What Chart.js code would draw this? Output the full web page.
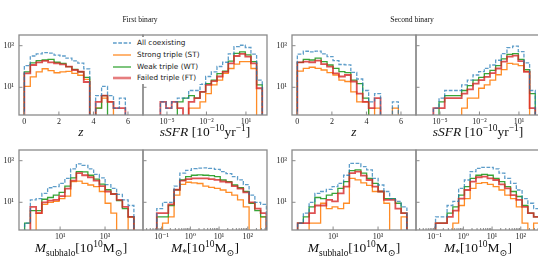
<!DOCTYPE html>
<html><head><meta charset="utf-8">
<script src="https://cdn.jsdelivr.net/npm/chart.js@4/dist/chart.umd.min.js"></script>
<style>
html,body{margin:0;padding:0;background:#fff;width:538px;height:268px;overflow:hidden;position:relative}
canvas{position:absolute}
.tx{position:absolute;white-space:nowrap;transform:translate(-50%,-50%);font-family:'Liberation Serif','DejaVu Serif',serif;color:#111;line-height:1}
.math{font-size:13.5px}
.math sub,.math sup{font-size:70%;line-height:0}
.ttl{font-size:7.6px}
.lgbox{position:absolute;left:109px;top:37px;width:92px;height:47px;background:#fff}
.lg{position:absolute;white-space:nowrap;font-family:'DejaVu Sans',sans-serif;font-size:7.3px;color:#222;transform:translateY(-50%);line-height:1}
</style></head><body>
<script>
// ---------------- data ----------------
const seriesNames = ['All coexisting','Strong triple (ST)','Weak triple (WT)','Failed triple (FT)'];

// bin edges
const zEdges = [0, 0.344, 0.688, 1.032, 1.376, 1.72, 2.064, 2.408, 2.752, 3.096, 3.44, 3.784, 4.128, 4.472, 4.816, 5.16, 5.504, 5.848];
const ssfrEdgesLog = [-5.5, -5.07, -4.64, -4.21, -3.78, -3.35, -2.92, -2.49, -2.06, -1.63, -1.2, -0.77, -0.34, 0.09, 0.52, 0.95, 1.38, 1.81, 2.24];
const mSubEdgesLog = [-0.58, -0.324, -0.068, 0.188, 0.444, 0.7, 0.956, 1.212, 1.468, 1.724, 1.98, 2.236, 2.492, 2.748, 3.004, 3.26, 3.516, 3.772, 4.028, 4.284];
const mStarEdgesLog = [-1.17, -0.969, -0.768, -0.567, -0.366, -0.165, 0.036, 0.237, 0.438, 0.639, 0.84, 1.041, 1.242, 1.443, 1.644, 1.845, 2.046, 2.247, 2.448, 2.649];

// First binary: redshift
const z1All = [110, 320, 400, 465, 440, 355, 320, 250, 188, 145, 77, 0, 4, 11, 4, 1, 3];
const z1ST  = [11, 32, 55, 78, 63, 50, 55, 58, 47, 38, 24, 0, 1, 3, 2, 0, 0];
const z1WT  = [55, 150, 190, 205, 222, 160, 142, 98, 73, 56, 30, 0, 1, 4, 0, 0, 0];
const z1FT  = [47, 118, 158, 185, 158, 142, 127, 98, 68, 56, 18, 0, 2, 4, 2, 1, 1];
// First binary: sSFR
const s1All = [2, 1, 2, 3, 3, 7, 7, 14, 33, 55, 100, 160, 400, 900, 1050, 820, 390, 22];
const s1ST  = [0, 0, 0, 0, 0, 1, 1, 2, 5, 13, 22, 47, 80, 130, 170, 170, 80, 0];
const s1WT  = [0, 0, 0, 2, 3, 4, 3, 6, 15, 22, 45, 60, 180, 430, 500, 360, 170, 13];
const s1FT  = [2, 1, 2, 1, 0, 2, 3, 6, 13, 20, 33, 55, 140, 320, 400, 300, 140, 9];
// Second binary: redshift
const z2All = [390, 540, 500, 550, 400, 300, 190, 125, 120, 52, 25, 7, 2, 5, 0, 0, 2];
const z2ST  = [60, 82, 92, 82, 68, 51, 39, 22, 19, 6, 2, 2, 0, 1, 0, 0, 1];
const z2WT  = [159, 222, 205, 250, 170, 118, 82, 57, 51, 22, 15, 3, 0, 0, 0, 0, 0];
const z2FT  = [159, 170, 160, 190, 130, 98, 47, 33, 39, 19, 5, 2, 1, 3, 0, 0, 0];
// Second binary: sSFR
const s2All = [1, 3, 7, 7, 7, 13, 22, 39, 57, 82, 118, 200, 420, 800, 950, 520, 150, 7];
const s2ST  = [0, 0, 0, 0, 0, 1, 3, 3, 9, 13, 22, 40, 70, 140, 130, 110, 60, 0];
const s2WT  = [0, 2, 4, 4, 4, 7, 12, 22, 30, 45, 65, 110, 230, 380, 420, 220, 70, 5];
const s2FT  = [1, 1, 3, 3, 3, 5, 8, 15, 22, 32, 48, 80, 170, 300, 330, 180, 55, 1];
// First binary: M_subhalo
const m1All = [1, 13, 15, 27, 50, 57, 82, 140, 400, 700, 600, 400, 220, 150, 70, 47, 24, 13, 7];
const m1ST  = [0, 0, 3, 8, 10, 11, 15, 20, 98, 105, 82, 68, 57, 33, 9, 3, 0, 0, 2];
const m1WT  = [1, 4, 4, 14, 17, 22, 30, 60, 150, 300, 290, 200, 130, 75, 40, 25, 12, 5, 2];
const m1FT  = [0, 6, 3, 10, 12, 13, 20, 45, 110, 250, 200, 160, 110, 60, 33, 25, 13, 6, 2];
// First binary: M_*
const st1All = [5, 10, 10, 60, 250, 340, 420, 440, 450, 430, 380, 300, 240, 170, 120, 70, 22, 10, 8];
const st1ST  = [0, 1, 2, 22, 73, 92, 85, 80, 60, 52, 47, 39, 30, 22, 13, 6, 0, 0, 2];
const st1WT  = [2, 2, 7, 40, 118, 170, 200, 210, 200, 190, 170, 118, 98, 68, 50, 33, 9, 4, 2];
const st1FT  = [3, 3, 8, 40, 110, 130, 140, 140, 140, 130, 120, 100, 90, 60, 45, 30, 10, 5, 3];
// Second binary: M_subhalo
const m2All = [1, 3, 10, 27, 33, 42, 57, 82, 200, 750, 750, 520, 360, 140, 68, 33, 15, 11, 6];
const m2ST  = [0, 0, 1, 1, 9, 5, 6, 5, 9, 140, 120, 85, 65, 33, 33, 9, 0, 0, 2];
const m2WT  = [1, 2, 6, 17, 15, 22, 27, 47, 98, 330, 360, 250, 140, 82, 33, 15, 15, 9, 3];
const m2FT  = [1, 1, 3, 7, 7, 13, 11, 27, 57, 250, 300, 190, 118, 57, 33, 13, 13, 5, 3];
// Second binary: M_*
const st2All = [0, 2, 2, 7, 11, 47, 118, 300, 430, 480, 480, 400, 250, 140, 82, 39, 15, 9, 5];
const st2ST  = [0, 0, 0, 0, 1, 7, 15, 47, 82, 88, 73, 57, 39, 22, 15, 6, 1, 0, 1];
const st2WT  = [0, 1, 1, 3, 6, 22, 57, 140, 200, 220, 200, 140, 98, 57, 33, 19, 7, 3, 2];
const st2FT  = [0, 1, 1, 2, 4, 15, 39, 98, 160, 170, 140, 118, 73, 47, 22, 13, 6, 3, 2];

// tick values / labels
const yTickVals = [10, 1000];
const yTickLabels = ['10\u00b9', '10\u00b3'];
const zTickVals = [0, 2, 4, 6];
const zTickLabels = ['0', '2', '4', '6'];
const ssfrTickVals = [1e-5, 1e-2, 1e1];
const ssfrTickLabels = ['10\u207b\u2075', '10\u207b\u00b2', '10\u00b9'];
const mSubTickVals = [1e1, 1e3];
const mSubTickLabels = ['10\u00b9', '10\u00b3'];
const mStarTickVals = [1e-1, 1e0, 1e1, 1e2];
const mStarTickLabels = ['10\u207b\u00b9', '10\u2070', '10\u00b9', '10\u00b2'];

// ---------------- drawing ----------------
const styles = [
  {color: 'rgba(31,119,180,0.72)', width: 1.3, dash: [3.7, 1.6], order: 0},
  {color: 'rgba(255,127,14,0.9)', width: 1.3, dash: [], order: 3},
  {color: 'rgba(44,160,44,0.95)', width: 1.3, dash: [], order: 2},
  {color: 'rgba(214,39,40,0.8)', width: 1.8, dash: [], order: 1}
];
const FONT = "'Liberation Serif','DejaVu Serif',serif";
const Y_MIN = Math.pow(10, -0.332), Y_MAX = Math.pow(10, 3.514);

function stepData(edges, counts, isLog) {
  const ex = edges.map(e => isLog ? Math.pow(10, e) : e);
  const Z = 1e-3;
  const n = counts.length;
  const pts = [{x: ex[0], y: Z}];
  for (let i = 0; i < n; i++) pts.push({x: ex[i], y: counts[i] > 0 ? counts[i] : Z});
  pts.push({x: ex[n], y: counts[n-1] > 0 ? counts[n-1] : Z});
  pts.push({x: ex[n], y: Z});
  return pts;
}

function zeroPad(s) { s.paddingLeft = 0; s.paddingRight = 0; s.paddingTop = 0; s.paddingBottom = 0; }

const framePlugin = {
  id: 'frame',
  afterDraw(chart) {
    const {ctx, chartArea: a, scales} = chart;
    const po = chart.options.plugins.frame || {};
    ctx.save();
    ctx.strokeStyle = '#8a8a8a';
    ctx.lineWidth = 1;
    ctx.beginPath();
    scales.x.ticks.forEach(t => {
      const px = scales.x.getPixelForValue(t.value);
      ctx.moveTo(px, a.bottom); ctx.lineTo(px, a.bottom - 3.5);
    });
    scales.y.ticks.forEach(t => {
      const py = scales.y.getPixelForValue(t.value);
      ctx.moveTo(a.left, py); ctx.lineTo(a.left + 3.5, py);
    });
    if (po.minor) {
      for (let k = -3; k <= 3; k++) {
        for (let d = 2; d <= 9; d++) {
          const v = d * Math.pow(10, k);
          if (v <= scales.x.min || v >= scales.x.max) continue;
          const px = scales.x.getPixelForValue(v);
          ctx.moveTo(px, a.bottom); ctx.lineTo(px, a.bottom - 2);
        }
      }
    }
    ctx.stroke();
    ctx.lineWidth = 1.3;
    ctx.strokeRect(a.left, a.top, a.right - a.left, a.bottom - a.top);
    ctx.restore();
  }
};

const panels = [
  {L:19, T:35, R:143, B:115, xType:'linear', xMin:-0.31, xMax:6.87, xt:zTickVals, xl:zTickLabels, edges:zEdges, log:false, s:[z1All,z1ST,z1WT,z1FT], yLab:true, minor:false},
  {L:143, T:35, R:267, B:115, xType:'logarithmic', xMin:Math.pow(10,-6.82), xMax:Math.pow(10,2.6), xt:ssfrTickVals, xl:ssfrTickLabels, edges:ssfrEdgesLog, log:true, s:[s1All,s1ST,s1WT,s1FT], yLab:false, minor:false},
  {L:292, T:35, R:416, B:115, xType:'linear', xMin:-0.31, xMax:6.87, xt:zTickVals, xl:zTickLabels, edges:zEdges, log:false, s:[z2All,z2ST,z2WT,z2FT], yLab:true, minor:false},
  {L:416, T:35, R:540, B:115, xType:'logarithmic', xMin:Math.pow(10,-6.82), xMax:Math.pow(10,2.6), xt:ssfrTickVals, xl:ssfrTickLabels, edges:ssfrEdgesLog, log:true, s:[s2All,s2ST,s2WT,s2FT], yLab:false, minor:false},
  {L:19, T:150, R:143, B:230, xType:'logarithmic', xMin:Math.pow(10,-0.83), xMax:Math.pow(10,4.69), xt:mSubTickVals, xl:mSubTickLabels, edges:mSubEdgesLog, log:true, s:[m1All,m1ST,m1WT,m1FT], yLab:true, minor:false},
  {L:143, T:150, R:267, B:230, xType:'logarithmic', xMin:Math.pow(10,-1.65), xMax:Math.pow(10,2.67), xt:mStarTickVals, xl:mStarTickLabels, edges:mStarEdgesLog, log:true, s:[st1All,st1ST,st1WT,st1FT], yLab:false, minor:true},
  {L:292, T:150, R:416, B:230, xType:'logarithmic', xMin:Math.pow(10,-0.83), xMax:Math.pow(10,4.69), xt:mSubTickVals, xl:mSubTickLabels, edges:mSubEdgesLog, log:true, s:[m2All,m2ST,m2WT,m2FT], yLab:true, minor:false},
  {L:416, T:150, R:540, B:230, xType:'logarithmic', xMin:Math.pow(10,-1.65), xMax:Math.pow(10,2.67), xt:mStarTickVals, xl:mStarTickLabels, edges:mStarEdgesLog, log:true, s:[st2All,st2ST,st2WT,st2FT], yLab:false, minor:true}
];

panels.forEach(p => {
  const padL = 26, padT = 6, padR = 6, padB = 16;
  const W = p.R - p.L, H = p.B - p.T;
  const cv = document.createElement('canvas');
  cv.width = W + padL + padR; cv.height = H + padT + padB;
  cv.style.left = (p.L - padL) + 'px'; cv.style.top = (p.T - padT) + 'px';
  cv.style.width = cv.width + 'px'; cv.style.height = cv.height + 'px';
  document.body.appendChild(cv);
  const datasets = p.s.map((arr, i) => ({
    label: seriesNames[i],
    data: stepData(p.edges, arr, p.log),
    stepped: true,
    borderColor: styles[i].color,
    borderWidth: styles[i].width,
    borderDash: styles[i].dash,
    order: styles[i].order,
    pointRadius: 0,
    fill: false,
    tension: 0,
    clip: 0
  }));
  new Chart(cv, {
    type: 'line',
    data: {datasets},
    options: {
      responsive: false, animation: false, events: [],
      layout: {padding: {left: 0, top: padT, right: padR, bottom: 0}},
      plugins: {legend: {display: false}, tooltip: {enabled: false}, frame: {minor: p.minor}},
      scales: {
        x: {
          type: p.xType, min: p.xMin, max: p.xMax, bounds: 'data',
          grid: {display: false, drawTicks: false}, border: {display: false},
          afterFit: s => { s.height = padB; zeroPad(s); },
          afterBuildTicks: s => { s.ticks = p.xt.map(v => ({value: v})); },
          ticks: {callback: (v, i) => p.xl[i], autoSkip: false, maxRotation: 0, padding: 2, color: '#222', font: {family: FONT, size: 8}}
        },
        y: {
          type: 'logarithmic', min: Y_MIN, max: Y_MAX, bounds: 'data',
          grid: {display: false, drawTicks: false}, border: {display: false},
          afterFit: s => { s.width = padL; zeroPad(s); },
          afterBuildTicks: s => { s.ticks = yTickVals.map(v => ({value: v})); },
          ticks: {display: p.yLab, callback: (v, i) => yTickLabels[i], padding: 5, color: '#222', font: {family: FONT, size: 8}}
        }
      }
    },
    plugins: [framePlugin]
  });
});
</script>

<!-- titles -->
<div class="tx ttl" style="left:140px;top:20px">First binary</div>
<div class="tx ttl" style="left:412px;top:20px">Second binary</div>

<!-- legend -->
<div class="lgbox"></div>
<svg style="position:absolute;left:112px;top:37px" width="20" height="46">
  <line x1="1" y1="6" x2="19" y2="6" stroke="rgba(31,119,180,0.72)" stroke-width="1.3" stroke-dasharray="3.7 1.6"/>
  <line x1="1" y1="18" x2="19" y2="18" stroke="rgba(255,127,14,0.9)" stroke-width="1.3"/>
  <line x1="1" y1="30" x2="19" y2="30" stroke="rgba(44,160,44,0.95)" stroke-width="1.3"/>
  <line x1="1" y1="41" x2="19" y2="41" stroke="rgba(214,39,40,0.6)" stroke-width="2.6"/>
</svg>
<div class="lg" style="left:137px;top:43px">All coexisting</div>
<div class="lg" style="left:137px;top:55px">Strong triple (ST)</div>
<div class="lg" style="left:137px;top:67px">Weak triple (WT)</div>
<div class="lg" style="left:137px;top:78px">Failed triple (FT)</div>

<!-- axis labels -->
<div class="tx math" style="left:81px;top:132px"><i>z</i></div>
<div class="tx math" style="left:205px;top:132px"><i>sSFR</i> [10<sup>&minus;10</sup>yr<sup>&minus;1</sup>]</div>
<div class="tx math" style="left:354px;top:132px"><i>z</i></div>
<div class="tx math" style="left:478px;top:132px"><i>sSFR</i> [10<sup>&minus;10</sup>yr<sup>&minus;1</sup>]</div>
<div class="tx math" style="left:81px;top:248px"><i>M</i><sub>subhalo</sub>[10<sup>10</sup>M<sub>&#8857;</sub>]</div>
<div class="tx math" style="left:205px;top:248px"><i>M</i><sub>*</sub>[10<sup>10</sup>M<sub>&#8857;</sub>]</div>
<div class="tx math" style="left:354px;top:248px"><i>M</i><sub>subhalo</sub>[10<sup>10</sup>M<sub>&#8857;</sub>]</div>
<div class="tx math" style="left:478px;top:248px"><i>M</i><sub>*</sub>[10<sup>10</sup>M<sub>&#8857;</sub>]</div>
</body></html>
